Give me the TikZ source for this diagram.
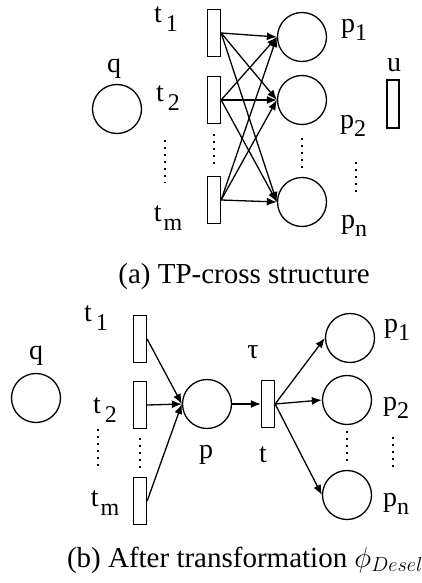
\RequirePackage{fix-cm}
\documentclass[tikz,border=0pt]{standalone}
\usepackage{fontspec}
\setmainfont{Liberation Serif}
\usepackage{tikz}
\usetikzlibrary{arrows.meta, positioning}

\newcommand{\lowidx}[1]{\raisebox{-0.3em}{\fontsize{24}{24}\selectfont #1}}

\begin{document}
\begin{tikzpicture}[x=1pt, y=-1pt, line width=1.3pt]
        \tikzstyle{place} = [circle, draw, minimum size=49pt, inner sep=0pt]
        \tikzstyle{trans} = [rectangle, draw, minimum width=13pt, minimum height=47pt, inner sep=0pt]
        \tikzstyle{lbl} = [inner sep=0pt, font=\fontsize{28}{32}\selectfont]
        \tikzstyle{caption} = [inner sep=0pt, font=\fontsize{29}{34}\selectfont]
        \tikzstyle{line} = [draw, -{Latex[length=10pt, width=8pt]}]
        \tikzstyle{dotrow} = [draw, line width=2pt, dash pattern=on 2pt off 5pt]

        \useasboundingbox (0,0) rectangle (422,583);

        % (a) TP-cross structure
        \node [place] (qA) at (117,109) {};
        \node [trans] (tA1) at (214,33) {};
        \node [trans] (tA2) at (214,100) {};
        \node [trans] (tAm) at (214,200) {};
        \node [place] (pA1) at (302,37) {};
        \node [place] (pA2) at (302,100) {};
        \node [place] (pAn) at (302,202) {};
        \node [trans, minimum width=12pt, minimum height=48pt] (uA) at (393,104) {};

        \node [lbl] (qAl) at (114,69) {q};
        \node [lbl] (tA1l) at (166,19) {t\hspace{4pt}\lowidx{1}};
        \node [lbl] (tA2l) at (168,98) {t\hspace{4pt}\lowidx{2}};
        \node [lbl] (tAml) at (168,218) {t\hspace{2pt}\lowidx{m}};
        \node [lbl] (pA1l) at (354,30) {p\lowidx{1}};
        \node [lbl] (pA2l) at (353,126) {p\lowidx{2}};
        \node [lbl] (pAnl) at (354,226) {p\lowidx{n}};
        \node [lbl] (uAl) at (394,65) {u};

        \foreach \s in {tA1,tA2,tAm}
            \foreach \d in {pA1,pA2,pAn}
                \path [line] (\s.east) -- (\d.west);

        \path [dotrow] (165,140) -- (165,183);
        \path [dotrow, shorten <=10pt, shorten >=9pt] (tA2.south) -- (tAm.north);
        \path [dotrow, shorten <=13pt, shorten >=9pt] (pA2.south) -- (pAn.north);
        \path [dotrow] (356,162) -- (356,194);

        \node [caption] (capA) at (244,277) {(a) TP-cross structure};

        % (b) After transformation
        \node [place] (qB) at (36,398) {};
        \node [trans] (tB1) at (140,339) {};
        \node [trans] (tB2) at (140,405) {};
        \node [trans] (tBm) at (140,501) {};
        \node [place] (pB) at (207,404) {};
        \node [trans] (tau) at (268,404) {};
        \node [place] (pB1) at (350,338) {};
        \node [place] (pB2) at (347,400) {};
        \node [place] (pBn) at (347,495) {};

        \node [lbl] (qBl) at (36,356) {q};
        \node [lbl] (tB1l) at (96,318) {t\hspace{4pt}\lowidx{1}};
        \node [lbl] (tB2l) at (105,410) {t\hspace{4pt}\lowidx{2}};
        \node [lbl] (tBml) at (105,503) {t\hspace{2pt}\lowidx{m}};
        \node [lbl] (pBl) at (206,455) {p};
        \node [lbl] (taul) at (253,352) {τ};
        \node [lbl] (tl) at (263,455) {t};
        \node [lbl] (pB1l) at (397,330) {p\lowidx{1}};
        \node [lbl] (pB2l) at (396,408) {p\lowidx{2}};
        \node [lbl] (pBnl) at (396,504) {p\lowidx{n}};

        \foreach \s in {tB1,tB2,tBm}
            \path [line] (\s.east) -- (pB.west);
        \path [line] (pB.east) -- (tau.west);
        \foreach \d in {pB1,pB2,pBn}
            \path [line] (tau.east) -- (\d.west);

        \path [dotrow] (98,429) -- (98,469);
        \path [dotrow, shorten <=9pt, shorten >=6pt] (tB2.south) -- (tBm.north);
        \path [dotrow, shorten <=6pt, shorten >=4pt] (pB2.south) -- (pBn.north);
        \path [dotrow] (393,437) -- (393,471);

        \node [caption] (capB) at (245,560) {(b) After transformation $\phi_{Desel}$};
    \end{tikzpicture}
\end{document}
